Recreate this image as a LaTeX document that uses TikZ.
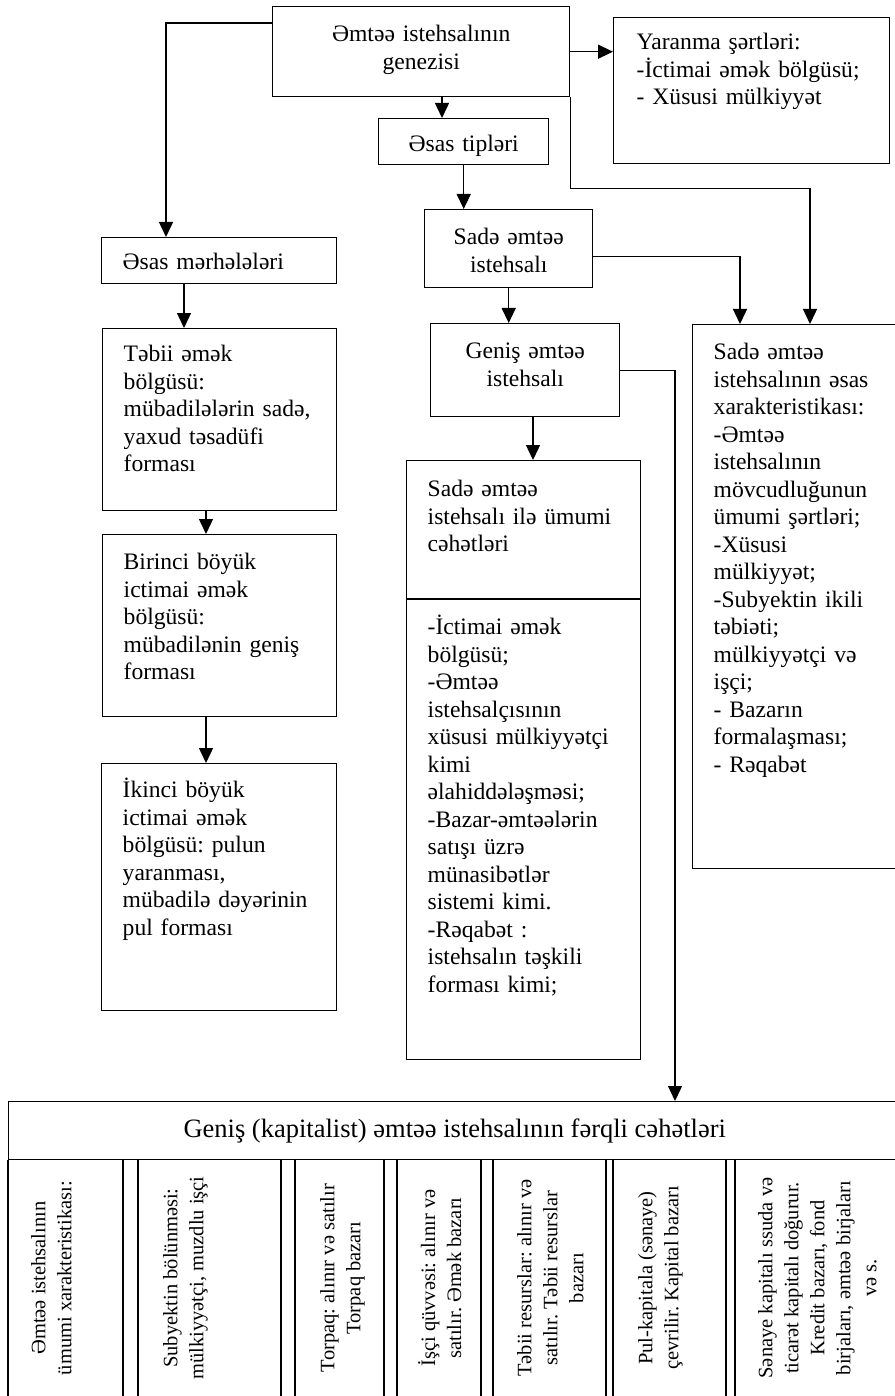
\documentclass[tikz,border=0pt]{standalone}
\usepackage{fontspec}
\setmainfont{Liberation Serif}
\usetikzlibrary{arrows.meta,calc}
\begin{document}
\frenchspacing
\begin{tikzpicture}[x=1pt,y=-1pt,
  bx/.style={draw, line width=1.4pt, anchor=north west, inner xsep=21pt, inner ysep=0pt, align=left, font=\fontsize{23.6}{27.5}\selectfont},
  ctr/.style={bx, align=center, inner xsep=4pt},
  arr/.style={line width=1.4pt, -{Triangle[width=14pt,length=15pt]}},
  ln/.style={line width=1.4pt},
  cell/.style={rotate=90, anchor=north, inner sep=0pt, align=center, font=\fontsize{20.5}{26}\selectfont}]
\useasboundingbox (0,0) rectangle (894,1396);
\fill[white] (0,0) rectangle (894,1396);

% top row
\node[ctr, text width=289pt, text height=35pt, text depth=55pt] (top) at (272,6) {Əmtəə istehsalının\\genezisi};
\node[bx, inner xsep=23pt, text width=230pt, text height=32pt, text depth=114pt] (yar) at (613,17) {Yaranma şərtləri:\\-İctimai əmək bölgüsü;\\- Xüsusi mülkiyyət};
\node[ctr, text width=162pt, text height=33pt, text depth=13pt] (tipl) at (378,118) {Əsas tipləri};
\node[ctr, text width=160pt, text height=35pt, text depth=43pt] (sade) at (424,209) {Sadə əmtəə\\istehsalı};
\node[ctr, text width=181pt, text height=35pt, text depth=58pt] (genis) at (430,323) {Geniş əmtəə\\istehsalı};

% left column
\node[bx, text width=193pt, text height=32pt, text depth=14pt] (mer) at (101,237) {Əsas mərhələləri};
\node[bx, text width=192pt, text height=33pt, text depth=149pt] (tebii) at (102,328) {Təbii əmək\\bölgüsü:\\mübadilələrin sadə,\\yaxud təsadüfi\\forması};
\node[bx, text width=192pt, text height=35pt, text depth=147pt] (bir) at (102,534) {Birinci böyük\\ictimai əmək\\bölgüsü:\\mübadilənin geniş\\forması};
\node[bx, text width=193pt, text height=34pt, text depth=213pt] (iki) at (101,763) {İkinci böyük\\ictimai əmək\\bölgüsü: pulun\\yaranması,\\mübadilə dəyərinin\\pul forması};

% middle common box
\node[bx, text width=192pt, text height=36pt, text depth=563pt] (cm) at (406,460) {Sadə əmtəə\\istehsalı ilə ümumi\\cəhətləri\\[55.5pt]-İctimai əmək\\bölgüsü;\\-Əmtəə\\istehsalçısının\\xüsusi mülkiyyətçi\\kimi\\əlahiddələşməsi;\\-Bazar-əmtəələrin\\satışı üzrə\\münasibətlər\\sistemi kimi.\\-Rəqabət :\\istehsalın təşkili\\forması kimi;};
\draw[ln] (cm.west |- 0,599) -- (cm.east |- 0,599);

% right box
\node[bx, text width=166pt, text height=35pt, text depth=509pt] (rb) at (692,324) {Sadə əmtəə\\istehsalının əsas\\xarakteristikası:\\-Əmtəə\\istehsalının\\mövcudluğunun\\ümumi şərtləri;\\-Xüsusi\\mülkiyyət;\\-Subyektin ikili\\təbiəti;\\mülkiyyətçi və\\işçi;\\- Bazarın\\formalaşması;\\- Rəqabət};

% bottom table
\node[draw, line width=1.4pt, anchor=north west, minimum width=892pt, minimum height=58pt, inner sep=0pt, font=\fontsize{26.5}{30}\selectfont] (hdr) at (8,1101) {Geniş (kapitalist) əmtəə istehsalının fərqli cəhətləri};
\draw[ln] (hdr.south west) -- (8,1400);
\foreach \x in {123,138,281,295,384,397,481,493,606,613,726,735}
  \draw[ln] (\x,1159) -- (\x,1400);
\node[cell] (c1) at (31,1278) {Əmtəə istehsalının\\ümumi xarakteristikası:};
\node[cell] (c2) at (163,1278) {Subyektin bölünməsi:\\mülkiyyətçi, muzdlu işçi};
\node[cell] (c3) at (320,1278) {Torpaq: alınır və satılır\\Torpaq bazarı};
\node[cell] (c4) at (418,1278) {İşçi qüvvəsi: alınır və\\satılır. Əmək bazarı};
\node[cell] (c5) at (517,1278) {Təbii resurslar: alınır və\\satılır. Təbii resurslar\\bazarı};
\node[cell] (c6) at (638,1278) {Pul-kapitala (sənaye)\\çevrilir. Kapital bazarı};
\node[cell] (c7) at (758,1278) {Sənaye kapitalı ssuda və\\ticarət kapitalı doğurur.\\Kredit bazarı, fond\\birjaları, əmtəə birjaları\\və s.};

% connectors
\coordinate (pm) at ([xshift=65pt]mer.north west);
\coordinate (pt) at ([xshift=64pt]tipl.north west);
\coordinate (pr1) at ([xshift=118pt]rb.north west);
\coordinate (pr2) at ([xshift=48pt]rb.north west);
\coordinate (ph) at ([xshift=667pt]hdr.north west);
\coordinate (pc) at ([xshift=127pt]cm.north west);
\coordinate (pte) at ([xshift=82pt]tebii.north west);
\coordinate (pb) at ([xshift=104pt]bir.north west);
\coordinate (pi) at ([xshift=105pt]iki.north west);

\draw[arr] ([yshift=-17pt]top.north west) -| (pm);
\draw[arr] (pt |- top.south) -- (pt);
\draw[arr] (top.east) -- (top.east -| yar.west);
\draw[arr] (top.south east) -- ++(0,91) -| (pr1);
\draw[arr] (tipl.south) -- (tipl.south |- sade.north);
\draw[arr] ([yshift=-8pt]sade.east) -| (pr2);
\draw[arr] (sade.south) -- (sade.south |- genis.north);
\draw[arr] (genis.east) -| (ph);
\draw[arr] (pc |- genis.south) -- (pc);
\draw[arr] (pte |- mer.south) -- (pte);
\draw[arr] (pb |- tebii.south) -- (pb);
\draw[arr] (pi |- bir.south) -- (pi);
\end{tikzpicture}
\end{document}
